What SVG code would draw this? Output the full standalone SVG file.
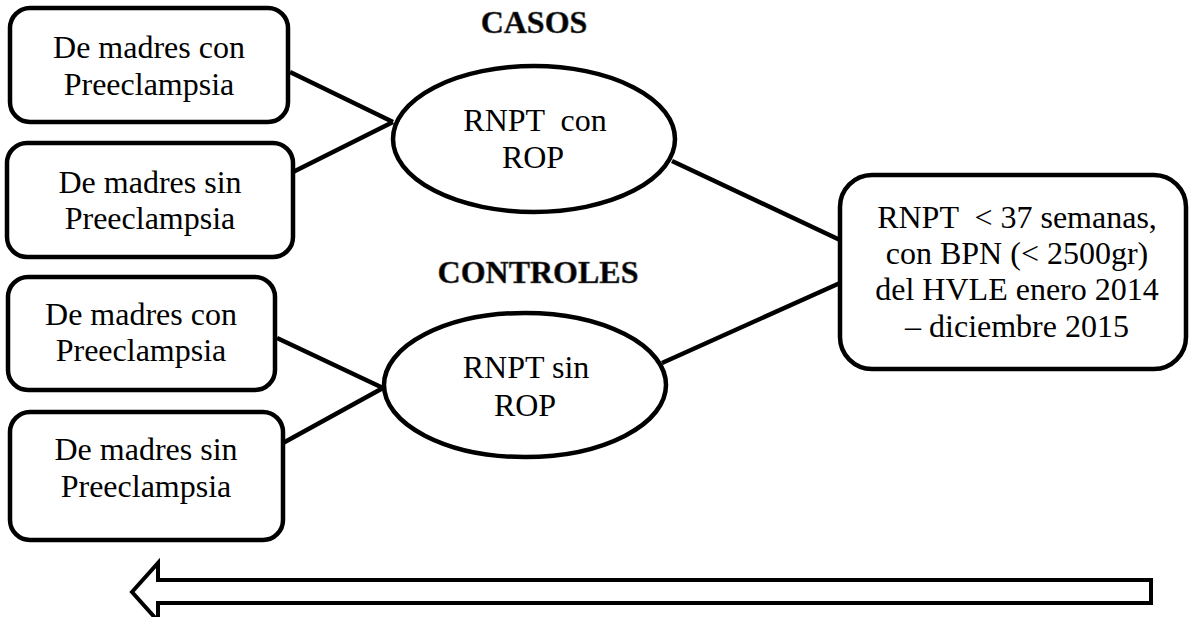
<svg xmlns="http://www.w3.org/2000/svg" width="1189" height="617" viewBox="0 0 1189 617">
<style>
.box{fill:#fff;stroke:#000;stroke-width:4.5}
.ell{fill:#fff;stroke:#000;stroke-width:4.5}
.t{font-family:'Liberation Serif','DejaVu Serif',serif;font-size:32px;fill:#000;text-anchor:middle}
.h{font-family:'Liberation Serif','DejaVu Serif',serif;font-size:32px;font-weight:bold;fill:#000;text-anchor:middle;stroke:#555;stroke-width:0.6}
.con{stroke:#000;stroke-width:4.5;fill:none}
</style>
<rect width="1189" height="617" fill="#fff"/>
<g id="connectors">
<line class="con" x1="290" y1="72" x2="393" y2="122"/>
<line class="con" x1="293" y1="172" x2="393" y2="122"/>
<line class="con" x1="277" y1="338" x2="383" y2="388"/>
<line class="con" x1="283" y1="443" x2="383" y2="388"/>
<line class="con" x1="672" y1="161" x2="840" y2="240"/>
<line class="con" x1="662" y1="363" x2="840" y2="283"/>
</g>
<g id="box1"><rect class="box" x="10" y="8" width="278" height="114" rx="20"/>
<text class="t" x="149" y="58">De madres con</text><text class="t" x="149" y="95">Preeclampsia</text></g>
<g id="box2"><rect class="box" x="7" y="143" width="286" height="114" rx="20"/>
<text class="t" x="150" y="193">De madres sin</text><text class="t" x="150" y="229">Preeclampsia</text></g>
<g id="box3"><rect class="box" x="8" y="277" width="267" height="113" rx="20"/>
<text class="t" x="141" y="325">De madres con</text><text class="t" x="141" y="361">Preeclampsia</text></g>
<g id="box4"><rect class="box" x="10" y="412" width="273" height="128" rx="20"/>
<text class="t" x="146" y="460">De madres sin</text><text class="t" x="146" y="497">Preeclampsia</text></g>
<g id="casos"><text class="h" x="534" y="33">CASOS</text></g>
<g id="controles"><text class="h" x="538" y="283">CONTROLES</text></g>
<g id="ell1"><ellipse class="ell" cx="534" cy="139" rx="141" ry="73"/>
<text class="t" x="535" y="131" xml:space="preserve">RNPT  con</text><text class="t" x="533" y="168">ROP</text></g>
<g id="ell2"><ellipse class="ell" cx="525" cy="385" rx="141" ry="72"/>
<text class="t" x="526" y="378">RNPT sin</text><text class="t" x="525" y="416">ROP</text></g>
<g id="box5"><rect class="box" x="840" y="175" width="346" height="194" rx="32"/>
<text class="t" x="1017" y="228" xml:space="preserve">RNPT  &lt; 37 semanas,</text>
<text class="t" x="1017" y="264">con BPN (&lt; 2500gr)</text>
<text class="t" x="1017" y="300">del HVLE enero 2014</text>
<text class="t" x="1017" y="337">– diciembre 2015</text></g>
<g id="arrow"><polygon points="1151,580 158,580 158,563 132,592 158,621 158,603 1151,603" fill="#fff" stroke="#000" stroke-width="4" stroke-linejoin="miter"/></g>
</svg>
